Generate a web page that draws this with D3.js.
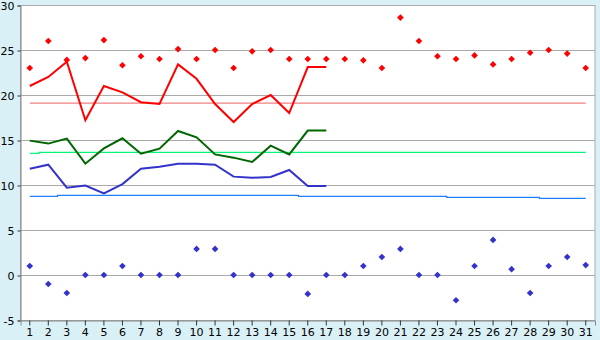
<!DOCTYPE html>
<html><head><meta charset="utf-8">
<script src="https://cdn.jsdelivr.net/npm/d3@7"></script>
<style>
html,body{margin:0;padding:0;background:#d9f0f7;}
svg{display:block;}
text{font-family:"DejaVu Sans",Verdana,sans-serif;font-size:11px;fill:#000;}
</style></head><body>
<svg id="c" width="600" height="340"></svg>
<script>
const days = d3.range(1, 32);
const yTicks = [-5, 0, 5, 10, 15, 20, 25, 30];
const maxPoints = [23, 26, 23.9, 24.1, 26.1, 23.3, 24.3, 24.0, 25.1, 24.0, 25.0, 23.0, 24.85, 25.0, 24.0, 24.0, 24.0, 24.0, 23.85, 23.0, 28.6, 26.0, 24.3, 24.0, 24.4, 23.4, 24.0, 24.7, 25.0, 24.6, 23.0];
const minPoints = [1, -1, -2, 0, 0, 1, 0, 0, 0, 2.9, 2.9, 0, 0, 0, 0, -2.1, 0, 0, 1, 2, 2.9, 0, 0, -2.8, 1, 3.9, 0.65, -2, 1, 2, 1.1];
const maxLine = [21.0, 22.0, 23.7, 17.2, 21.0, 20.3, 19.2, 19.0, 23.4, 21.8, 19.0, 17.0, 19.0, 20.0, 18.0, 23.1, 23.1];
const meanLine = [14.93, 14.6, 15.15, 12.37, 14.07, 15.19, 13.48, 14.04, 16.0, 15.3, 13.4, 13.04, 12.56, 14.37, 13.4, 16.05, 16.05];
const minLine = [11.8, 12.26, 9.7, 9.93, 9.07, 10.1, 11.8, 12.03, 12.37, 12.37, 12.26, 10.93, 10.81, 10.89, 11.67, 9.89, 9.89];
const maxNormal = Array(31).fill(19.1);
const meanNormal = [13.52].concat(Array(30).fill(13.63));
const minNormal = [8.74, 8.74, 8.85, 8.85, 8.85, 8.85, 8.85, 8.85, 8.85, 8.85, 8.85, 8.85, 8.85, 8.85, 8.85, 8.74, 8.74, 8.74, 8.74, 8.74, 8.74, 8.74, 8.74, 8.63, 8.63, 8.63, 8.63, 8.63, 8.52, 8.52, 8.52];

const svg = d3.select("#c");
const L = 20.5, R = 595, T = 5, B = 320;
const x = d3.scaleBand().domain(days).range([L, R]);
const cx = d => x(d) + x.bandwidth() / 2;
const y = d3.scaleLinear().domain([-5, 30]).range([B, T]);

svg.append("rect").attr("x", L).attr("y", T).attr("width", R - L).attr("height", B - T).attr("fill", "#fff");

// grid
svg.append("g").selectAll("line").data(yTicks.filter(v => v > -5 && v < 30)).join("line")
  .attr("x1", L).attr("x2", R).attr("y1", d => Math.round(y(d)) + 0.5).attr("y2", d => Math.round(y(d)) + 0.5)
  .attr("stroke", "#aaa").attr("stroke-width", 1);

// frame
svg.append("rect").attr("x", L).attr("y", T + 0.5).attr("width", R - L).attr("height", B - T)
  .attr("fill", "none").attr("stroke", "#aaa");

// y axis
const ya = svg.append("g").attr("transform", `translate(${L},0.5)`)
  .call(d3.axisLeft(y).tickValues(yTicks).tickSize(3).tickPadding(3).tickFormat(d => String(d)));
ya.select(".domain").attr("stroke", "#888");
ya.selectAll(".tick line").attr("stroke", "#333");
ya.selectAll("text").attr("font-size", 11).attr("font-family", "DejaVu Sans, sans-serif").attr("fill", "#000");

// x axis
const xa = svg.append("g").attr("transform", `translate(0,${B + 0.5})`)
  .call(d3.axisBottom(x).tickSize(5).tickPadding(3));
xa.select(".domain").attr("stroke", "#888");
xa.selectAll(".tick line").attr("stroke", "#333");
xa.selectAll("text").attr("font-size", 11).attr("font-family", "DejaVu Sans, sans-serif").attr("fill", "#000");

const line = d3.line().x((d, i) => cx(days[i])).y(d => y(d));
const step = d3.line().x((d, i) => cx(days[i])).y(d => y(d)).curve(d3.curveStep);

svg.append("path").attr("d", step(maxNormal)).attr("fill", "none").attr("stroke", "#f08080").attr("stroke-width", 1.2);
svg.append("path").attr("d", step(meanNormal)).attr("fill", "none").attr("stroke", "#00f57a").attr("stroke-width", 1.2);
svg.append("path").attr("d", step(minNormal)).attr("fill", "none").attr("stroke", "#1e7fff").attr("stroke-width", 1.2);

svg.append("path").attr("d", line(maxLine)).attr("fill", "none").attr("stroke", "#ff0000").attr("stroke-width", 2);
svg.append("path").attr("d", line(meanLine)).attr("fill", "none").attr("stroke", "#006600").attr("stroke-width", 2);
svg.append("path").attr("d", line(minLine)).attr("fill", "none").attr("stroke", "#3333cc").attr("stroke-width", 2);

const marker = d3.symbol().type(d3.symbolSquare).size(22);
svg.append("g").selectAll("path").data(maxPoints).join("path")
  .attr("transform", (d, i) => `translate(${cx(days[i])},${y(d)}) rotate(45)`).attr("d", marker).attr("fill", "#ff0000");
svg.append("g").selectAll("path").data(minPoints).join("path")
  .attr("transform", (d, i) => `translate(${cx(days[i])},${y(d)}) rotate(45)`).attr("d", marker).attr("fill", "#3333cc");
</script></body></html>
